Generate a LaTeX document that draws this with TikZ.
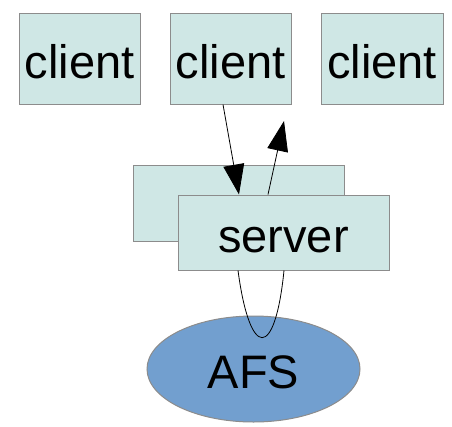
\documentclass[tikz,border=0pt]{standalone}
\usepackage{fontspec}
\setmainfont{Liberation Sans}
\usetikzlibrary{arrows.meta,shapes.geometric}

\definecolor{boxfill}{HTML}{CFE7E5}
\definecolor{afsfill}{HTML}{729FCF}
\definecolor{edge}{HTML}{8C8C8C}

\tikzset{
  box/.style={draw=edge, line width=1pt, fill=boxfill, rectangle, inner sep=0pt,
    font=\fontsize{47}{50}\selectfont, text height=39pt, text depth=0pt},
  disk/.style={draw=edge, line width=1pt, fill=afsfill, ellipse, inner sep=0pt,
    minimum width=213pt, minimum height=106pt,
    font=\fontsize{47}{50}\selectfont, text height=39pt, text depth=0pt},
  link/.style={line width=0.8pt, -{Triangle[length=30pt,width=21pt]}}
}

\begin{document}
\begin{tikzpicture}[x=1pt, y=-1pt]
  \useasboundingbox (0,0) rectangle (452,426);
  % clients in a row
  \node[box, minimum width=121pt, minimum height=91pt] (client1) at (79.5,58.5) {client};
  \node[box, minimum width=121pt, minimum height=91pt] (client2) at (230.5,58.5) {client};
  \node[box, minimum width=122pt, minimum height=91pt] (client3) at (382,58.5) {client};
  % two server boxes, one behind the other
  \node[box, minimum width=211pt, minimum height=76pt] (serverbg) at (238.5,203) {};
  \node[box, minimum width=211pt, minimum height=75pt] (server) at (283.5,232.5) {server};
  \node[disk] (afs) at (253.5,369) {AFS};
  % request and reply
  \coordinate (reply) at (284,121);
  \draw[link] ([xshift=-7.5pt]client2.south) -- ([xshift=-44.5pt]server.north);
  \draw[link] ([xshift=-15.5pt]server.north) -- (reply);
  % round trip to AFS
  \draw[line width=0.8pt] ([xshift=-45.5pt]server.south)
    .. controls (250,360) and (275,360) .. ([xshift=0.5pt]server.south);
\end{tikzpicture}
\end{document}
